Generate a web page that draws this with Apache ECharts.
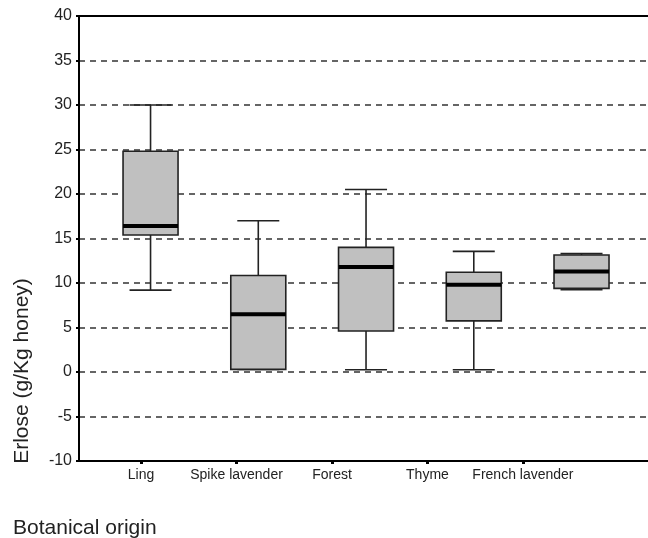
<!DOCTYPE html>
<html lang="en">
  <head>
    <meta charset="UTF-8" />
    <title>Erlose by botanical origin</title>
    <style>
      body { margin: 0; background: #fff; }
    </style>
  </head>
  <body>
    <div id="main" style="width: 648px; height: 538px"></div>
    <script src="https://cdn.jsdelivr.net/npm/echarts@6/dist/echarts.min.js"></script>
    <script>
      // box statistics (g/Kg honey)
      var categories = ["Ling", "Spike lavender", "Forest", "Thyme", "French lavender"];
      var mins = [9.2, 0.3, 0.25, 0.25, 9.25];
      var q1s = [15.4, 0.3, 4.6, 5.75, 9.4];
      var medians = [16.4, 6.5, 11.8, 9.8, 11.3];
      var q3s = [24.8, 10.85, 14.0, 11.2, 13.15];
      var maxs = [30.0, 17.0, 20.5, 13.55, 13.3];

      var font = "'Liberation Sans', Arial, sans-serif";
      var ink = "#222";

      var boxData = categories.map(function (c, i) {
        return [i + 1, mins[i], q1s[i], medians[i], q3s[i], maxs[i]];
      });
      var labelPos = categories.map(function (c, i) { return i + 1; });

      function renderBox(params, api) {
        var x = api.value(0);
        var pMin = api.coord([x, api.value(1)]);
        var pQ1 = api.coord([x, api.value(2)]);
        var pMed = api.coord([x, api.value(3)]);
        var pQ3 = api.coord([x, api.value(4)]);
        var pMax = api.coord([x, api.value(5)]);
        var hw = 27.5, cw = 21, cx = pMed[0];
        var lineStyle = { stroke: ink, lineWidth: 1.6 };
        return {
          type: "group",
          children: [
            { type: "line", shape: { x1: cx, y1: pMax[1], x2: cx, y2: pQ3[1] }, style: lineStyle },
            { type: "line", shape: { x1: cx, y1: pQ1[1], x2: cx, y2: pMin[1] }, style: lineStyle },
            { type: "line", shape: { x1: cx - cw, y1: pMax[1], x2: cx + cw, y2: pMax[1] }, style: lineStyle },
            { type: "line", shape: { x1: cx - cw, y1: pMin[1], x2: cx + cw, y2: pMin[1] }, style: lineStyle },
            {
              type: "rect",
              shape: { x: cx - hw, y: pQ3[1], width: hw * 2, height: pQ1[1] - pQ3[1] },
              style: { fill: "#c0c0c0", stroke: ink, lineWidth: 1.6 }
            },
            { type: "line", shape: { x1: cx - hw, y1: pMed[1], x2: cx + hw, y2: pMed[1] }, style: { stroke: "#000", lineWidth: 4 } }
          ]
        };
      }

      var myChart = echarts.init(document.getElementById("main"));
      var option = {
        animation: false,
        grid: { left: 79, right: 0, top: 16, bottom: 77 },
        xAxis: [
          {
            // category labels sit on their own positions
            type: "value",
            min: 0.35,
            max: 6.31,
            axisLine: { onZero: false, lineStyle: { color: "#000", width: 2 } },
            axisTick: { customValues: labelPos, length: 3, lineStyle: { color: "#000", width: 3 } },
            axisLabel: {
              customValues: labelPos,
              margin: 7,
              fontFamily: font,
              fontSize: 14,
              color: ink,
              formatter: function (v) { return categories[v - 1]; }
            },
            splitLine: { show: false }
          },
          {
            // boxes are spaced a little wider than labels; also draws the top border
            type: "value",
            position: "top",
            min: 0.336,
            max: 5.617,
            axisLine: { show: true, onZero: false, lineStyle: { color: "#000", width: 2 } },
            axisTick: { show: false },
            axisLabel: { show: false },
            splitLine: { show: false }
          }
        ],
        yAxis: {
          type: "value",
          min: -10,
          max: 40,
          interval: 5,
          axisLine: { show: true, onZero: false, lineStyle: { color: "#000", width: 2 } },
          axisTick: { show: true, length: 3, lineStyle: { color: "#000", width: 2 } },
          axisLabel: { margin: 7, fontFamily: font, fontSize: 16, color: ink },
          splitLine: { lineStyle: { color: "#333", width: 1.5, type: [6, 5] } }
        },
        graphic: [
          {
            type: "text",
            x: 22,
            y: 371,
            rotation: Math.PI / 2,
            style: {
              text: "Erlose (g/Kg honey)",
              font: "21px " + font,
              fill: ink,
              textAlign: "center",
              textVerticalAlign: "middle"
            }
          },
          {
            type: "text",
            x: 13,
            y: 528,
            style: {
              text: "Botanical origin",
              font: "21px " + font,
              fill: ink,
              textAlign: "left",
              textVerticalAlign: "middle"
            }
          }
        ],
        series: [
          {
            type: "custom",
            xAxisIndex: 1,
            renderItem: renderBox,
            encode: { x: 0, y: [1, 2, 3, 4, 5] },
            data: boxData
          }
        ]
      };
      myChart.setOption(option);
    </script>
  </body>
</html>
